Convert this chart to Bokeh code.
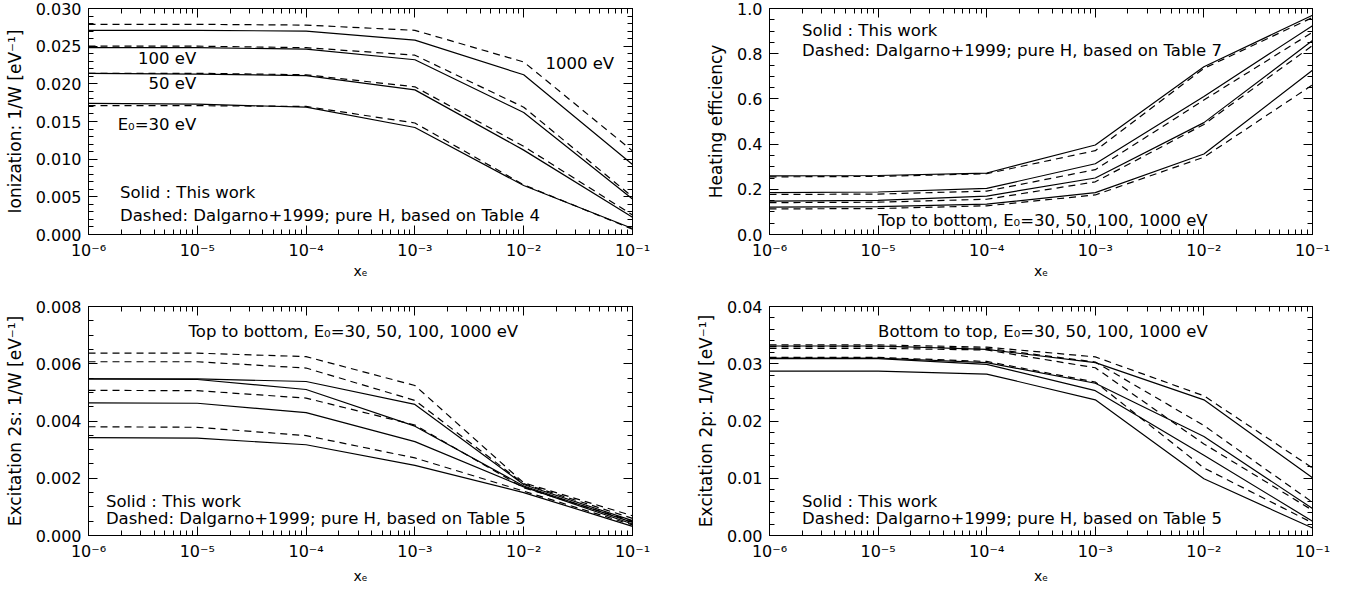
import numpy as np
from bokeh.plotting import figure
from bokeh.layouts import column, row
from bokeh.models import (FixedTicker, PrintfTickFormatter, CustomJSTickFormatter,
                          LinearAxis, LogAxis, Range1d, Label)
from bokeh.embed import file_html
from bokeh.resources import INLINE

# ---------------- data ----------------
xe = [1e-6, 1e-5, 1e-4, 1e-3, 1e-2, 1e-1]
energies = ["30", "50", "100", "1000"]

# Ionization 1/W [eV^-1]
ion_solid = {
    "30":   [0.0174, 0.0173, 0.0169, 0.0142, 0.0065, 0.0008],
    "50":   [0.0214, 0.0213, 0.0211, 0.0192, 0.0112, 0.0023],
    "100":  [0.0248, 0.0248, 0.0246, 0.0232, 0.0162, 0.0047],
    "1000": [0.0271, 0.0271, 0.0270, 0.0258, 0.0212, 0.0093],
}
ion_dashed = {
    "30":   [0.0171, 0.0171, 0.0170, 0.0148, 0.0066, 0.0007],
    "50":   [0.0214, 0.0214, 0.0212, 0.0196, 0.0117, 0.0026],
    "100":  [0.0250, 0.0250, 0.0248, 0.0238, 0.0169, 0.0050],
    "1000": [0.0279, 0.0279, 0.0278, 0.0271, 0.0229, 0.0111],
}

# Heating efficiency
heat_solid = {
    "30":   [0.259, 0.261, 0.272, 0.396, 0.742, 0.970],
    "50":   [0.185, 0.188, 0.204, 0.313, 0.611, 0.924],
    "100":  [0.148, 0.151, 0.170, 0.250, 0.495, 0.858],
    "1000": [0.121, 0.123, 0.134, 0.185, 0.356, 0.727],
}
heat_dashed = {
    "30":   [0.255, 0.257, 0.269, 0.371, 0.735, 0.960],
    "50":   [0.177, 0.179, 0.192, 0.287, 0.595, 0.895],
    "100":  [0.141, 0.143, 0.156, 0.233, 0.487, 0.836],
    "1000": [0.113, 0.115, 0.127, 0.175, 0.342, 0.662],
}

# Excitation 2s
exc2s_solid = {
    "30":   [0.00547, 0.00547, 0.00538, 0.00458, 0.00178, 0.00052],
    "50":   [0.00547, 0.00545, 0.00510, 0.00382, 0.00173, 0.00046],
    "100":  [0.00463, 0.00462, 0.00429, 0.00328, 0.00170, 0.00040],
    "1000": [0.00342, 0.00340, 0.00317, 0.00245, 0.00150, 0.00032],
}
exc2s_dashed = {
    "30":   [0.00637, 0.00637, 0.00625, 0.00524, 0.00184, 0.00069],
    "50":   [0.00607, 0.00607, 0.00585, 0.00472, 0.00181, 0.00060],
    "100":  [0.00507, 0.00506, 0.00480, 0.00386, 0.00167, 0.00050],
    "1000": [0.00380, 0.00378, 0.00349, 0.00271, 0.00155, 0.00037],
}

# Excitation 2p
exc2p_solid = {
    "30":   [0.0287, 0.0287, 0.0282, 0.0237, 0.0099, 0.0013],
    "50":   [0.0309, 0.0309, 0.0299, 0.0253, 0.0140, 0.0025],
    "100":  [0.0310, 0.0310, 0.0302, 0.0266, 0.0173, 0.0047],
    "1000": [0.0331, 0.0331, 0.0325, 0.0302, 0.0237, 0.0101],
}
exc2p_dashed = {
    "30":   [0.0311, 0.0311, 0.0304, 0.0268, 0.0118, 0.0022],
    "50":   [0.0327, 0.0327, 0.0324, 0.0293, 0.0160, 0.0044],
    "100":  [0.0330, 0.0330, 0.0327, 0.0303, 0.0192, 0.0058],
    "1000": [0.0333, 0.0333, 0.0329, 0.0312, 0.0244, 0.0118],
}

x_major = [1e-6, 1e-5, 1e-4, 1e-3, 1e-2, 1e-1]
x_minor = [d * m for d in x_major[:-1] for m in range(2, 10)]

FONT = "DejaVu Sans"
FS = "16px"
TFS = "16.5px"

X_FMT_CODE = """
const e = Math.round(Math.log10(tick));
const sup = {'-':'\\u207B','0':'\\u2070','1':'\\u00B9','2':'\\u00B2','3':'\\u00B3','4':'\\u2074','5':'\\u2075','6':'\\u2076','7':'\\u2077','8':'\\u2078','9':'\\u2079'};
return '10' + String(e).split('').map(c => sup[c]).join('');
"""


def style_axis(ax, major_in=9, minor_in=5):
    ax.major_tick_in = major_in
    ax.major_tick_out = 0
    ax.minor_tick_in = minor_in
    ax.minor_tick_out = 0
    ax.axis_line_color = "black"
    ax.major_tick_line_color = "black"
    ax.minor_tick_line_color = "black"
    ax.major_label_text_font = FONT
    ax.major_label_text_font_size = FS
    ax.major_label_text_color = "black"
    ax.axis_label_text_font = FONT
    ax.axis_label_text_font_style = "normal"
    ax.axis_label_text_color = "black"


def hide_labels(ax):
    ax.major_label_text_font_size = "1px"
    ax.major_label_text_alpha = 0
    ax.major_label_standoff = 0


def make_fig(width, height, left, right, top, bottom, ymax, ystep, yminor, yfmt,
             ylabel, xlabel_standoff):
    p = figure(width=width, height=height, x_axis_type="log",
               x_range=Range1d(1e-6, 1e-1), y_range=Range1d(0, ymax),
               output_backend="svg", toolbar_location=None,
               min_border_left=left, min_border_right=right,
               min_border_top=top, min_border_bottom=bottom)
    p.grid.visible = False
    p.outline_line_color = "black"
    p.background_fill_color = "white"
    p.border_fill_color = "white"

    y_major = [float(v) for v in np.round(np.arange(0, ymax + ystep / 2, ystep), 6)]
    y_minor = [float(v) for v in np.round(np.arange(0, ymax + yminor / 2, yminor), 6)]

    xa = p.xaxis[0]
    xa.ticker = FixedTicker(ticks=x_major, minor_ticks=x_minor)
    xa.formatter = CustomJSTickFormatter(code=X_FMT_CODE)
    xa.axis_label = "x\u2091"
    style_axis(xa)
    xa.major_label_standoff = 6
    xa.axis_label_standoff = xlabel_standoff
    xa.axis_label_text_font_size = "14px"

    ya = p.yaxis[0]
    ya.ticker = FixedTicker(ticks=y_major, minor_ticks=y_minor)
    ya.formatter = PrintfTickFormatter(format=yfmt)
    ya.axis_label = ylabel
    style_axis(ya)
    ya.major_label_standoff = 7
    ya.axis_label_standoff = 8
    ya.axis_label_text_font_size = "17px"

    top_ax = LogAxis(ticker=FixedTicker(ticks=x_major, minor_ticks=x_minor))
    style_axis(top_ax)
    hide_labels(top_ax)
    p.add_layout(top_ax, "above")

    right_ax = LinearAxis(ticker=FixedTicker(ticks=y_major, minor_ticks=y_minor))
    style_axis(right_ax)
    hide_labels(right_ax)
    p.add_layout(right_ax, "right")
    return p


def draw(p, solid, dashed):
    for e in energies:
        p.line(xe, dashed[e], line_color="black", line_width=1.2, line_dash="7 5")
        p.line(xe, solid[e], line_color="black", line_width=1.2)


def lab(p, x, y, text, align="left"):
    p.add_layout(Label(x=x, y=y, text=text, text_font=FONT, text_font_size=TFS,
                       text_color="black", text_align=align, text_baseline="middle"))


# top-left: ionization
p1 = make_fig(680, 298, 88, 48, 8, 64, 0.030, 0.005, 0.001, "%.3f",
              "Ionization: 1/W [eV\u207B\u00B9]", 0)
draw(p1, ion_solid, ion_dashed)
lab(p1, 10 ** -5.01, 0.0233, "100 eV", "right")
lab(p1, 10 ** -5.01, 0.0201, "50 eV", "right")
lab(p1, 10 ** -5.01, 0.0146, "E\u2080=30 eV", "right")
lab(p1, 10 ** -1.80, 0.0227, "1000 eV")
lab(p1, 10 ** -5.71, 0.0056, "Solid : This work")
lab(p1, 10 ** -5.71, 0.0025, "Dashed: Dalgarno+1999; pure H, based on Table 4")

# top-right: heating
p2 = make_fig(665, 298, 89, 33, 8, 64, 1.0, 0.2, 0.05, "%.1f", "Heating efficiency", 0)
draw(p2, heat_solid, heat_dashed)
lab(p2, 10 ** -5.70, 0.902, "Solid : This work")
lab(p2, 10 ** -5.70, 0.812, "Dashed: Dalgarno+1999; pure H, based on Table 7")
lab(p2, 10 ** -5.0, 0.060, "Top to bottom, E\u2080=30, 50, 100, 1000 eV")

# bottom-left: excitation 2s
p3 = make_fig(680, 293, 88, 48, 8, 56, 0.008, 0.002, 0.0005, "%.3f",
              "Excitation 2s: 1/W [eV\u207B\u00B9]", 4)
draw(p3, exc2s_solid, exc2s_dashed)
lab(p3, 10 ** -5.08, 0.00712, "Top to bottom, E\u2080=30, 50, 100, 1000 eV")
lab(p3, 10 ** -5.84, 0.00120, "Solid : This work")
lab(p3, 10 ** -5.84, 0.00060, "Dashed: Dalgarno+1999; pure H, based on Table 5")

# bottom-right: excitation 2p
p4 = make_fig(665, 293, 89, 33, 8, 56, 0.04, 0.01, 0.002, "%.2f",
              "Excitation 2p: 1/W [eV\u207B\u00B9]", 4)
draw(p4, exc2p_solid, exc2p_dashed)
lab(p4, 10 ** -5.0, 0.0356, "Bottom to top, E\u2080=30, 50, 100, 1000 eV")
lab(p4, 10 ** -5.70, 0.0060, "Solid : This work")
lab(p4, 10 ** -5.70, 0.0030, "Dashed: Dalgarno+1999; pure H, based on Table 5")

layout = column(row(p1, p2), row(p3, p4))

with open("out.html", "w") as f:
    f.write(file_html(layout, INLINE))
